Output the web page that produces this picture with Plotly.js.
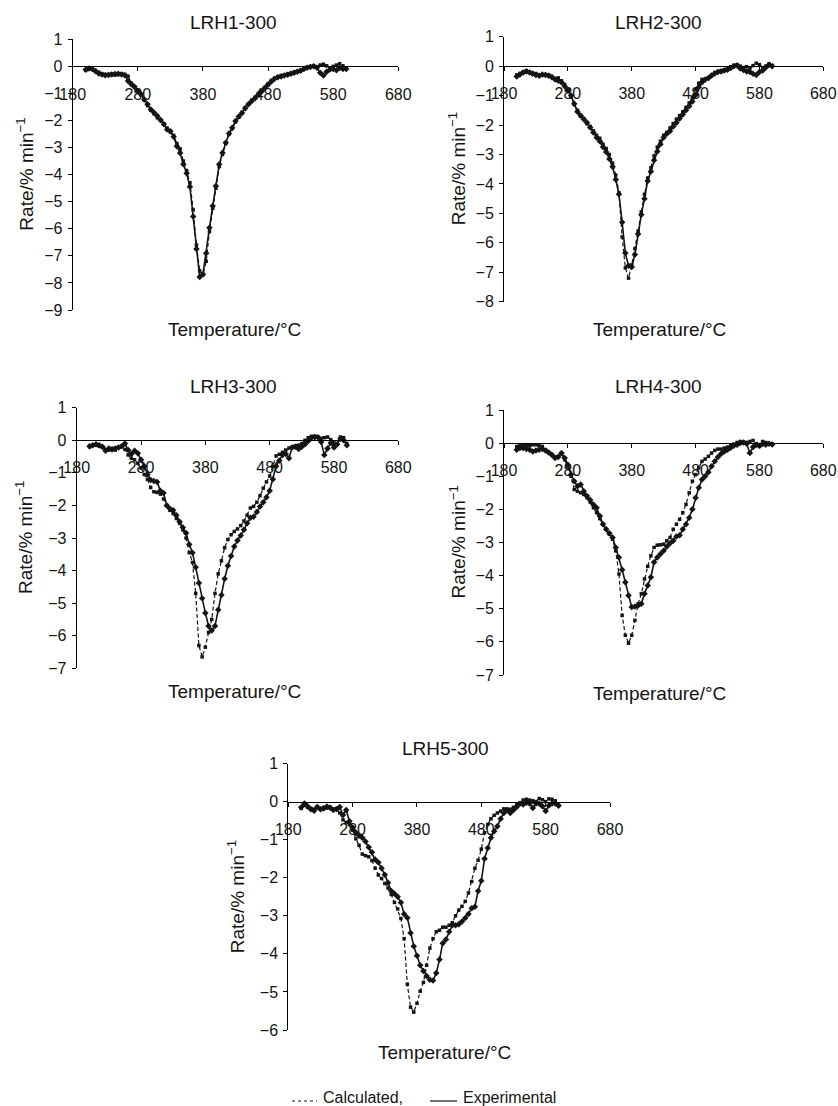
<!DOCTYPE html>
<html>
<head>
<meta charset="utf-8">
<script src="https://cdn.plot.ly/plotly-3.0.1.min.js"></script>
<style>
html,body{margin:0;padding:0;background:#fff;}
#chart{width:838px;height:1106px;}
</style>
</head>
<body>
<div id="chart"></div>
<script>
// ---------------- DATA ----------------
const temperature = [200,205,210,215,220,225,230,235,240,245,
  250,255,260,265,270,275,280,285,290,295,
  300,305,310,315,320,325,330,335,340,345,
  350,355,360,365,370,375,380,385,390,395,
  400,405,410,415,420,425,430,435,440,445,
  450,455,460,465,470,475,480,485,490,495,
  500,505,510,515,520,525,530,535,540,545,
  550,555,560,565,570,575,580,585,590,595,
  600];

const xTickLabels = [180,280,380,480,580,680];

const panelNames = ['LRH1-300','LRH2-300','LRH3-300','LRH4-300','LRH5-300'];
const yAxisMin = [-9,-8,-7,-7,-6];
const yAxisMax = 1;

const lrh1Exp = [-0.12,-0.08,-0.10,-0.18,-0.26,-0.30,-0.33,-0.32,-0.30,-0.28,
  -0.27,-0.30,-0.33,-0.54,-0.66,-0.75,-0.91,-1.03,-1.22,-1.40,
  -1.59,-1.71,-1.83,-1.98,-2.14,-2.33,-2.40,-2.60,-2.95,-3.20,
  -3.62,-3.95,-4.45,-5.55,-6.75,-7.78,-7.68,-6.90,-5.96,-5.16,
  -4.42,-3.62,-3.19,-2.82,-2.48,-2.27,-2.02,-1.85,-1.72,-1.55,
  -1.40,-1.28,-1.18,-1.05,-0.93,-0.80,-0.68,-0.56,-0.46,-0.40,
  -0.37,-0.34,-0.31,-0.27,-0.24,-0.20,-0.16,-0.10,-0.05,-0.02,
  0.00,-0.05,-0.24,-0.34,-0.20,-0.12,-0.10,-0.14,-0.06,-0.10,
  -0.10];
const lrh1Calc = [-0.15,-0.10,-0.08,-0.15,-0.22,-0.28,-0.30,-0.30,-0.28,-0.32,
  -0.30,-0.27,-0.30,-0.36,-0.62,-0.78,-0.88,-1.05,-1.25,-1.45,
  -1.62,-1.75,-1.90,-2.00,-2.12,-2.28,-2.42,-2.55,-2.85,-3.05,
  -3.50,-3.85,-4.30,-5.30,-6.60,-7.55,-7.70,-7.20,-6.10,-5.25,
  -4.50,-3.70,-3.25,-2.85,-2.50,-2.30,-2.05,-1.88,-1.70,-1.52,
  -1.38,-1.25,-1.14,-1.00,-0.90,-0.78,-0.64,-0.52,-0.44,-0.38,
  -0.34,-0.32,-0.28,-0.25,-0.22,-0.18,-0.14,-0.08,-0.03,0.00,
  0.02,-0.02,0.05,0.08,0.02,-0.05,0.00,0.05,0.10,0.02,
  -0.05];

const lrh2Exp = [-0.35,-0.28,-0.22,-0.18,-0.22,-0.25,-0.30,-0.33,-0.28,-0.30,
  -0.33,-0.38,-0.45,-0.50,-0.55,-0.68,-0.82,-1.00,-1.28,-1.55,
  -1.68,-1.80,-1.92,-2.08,-2.25,-2.42,-2.55,-2.75,-2.92,-3.15,
  -3.42,-3.85,-4.35,-5.30,-6.35,-6.78,-6.82,-6.40,-5.70,-5.05,
  -4.50,-3.90,-3.58,-3.20,-2.90,-2.65,-2.42,-2.30,-2.20,-2.05,
  -1.92,-1.78,-1.64,-1.50,-1.36,-1.20,-0.98,-0.72,-0.55,-0.45,
  -0.40,-0.32,-0.25,-0.20,-0.18,-0.15,-0.12,-0.06,0.00,0.02,
  -0.08,-0.13,-0.18,-0.20,-0.26,-0.30,-0.20,-0.15,-0.05,0.05,
  0.00];
const lrh2Calc = [-0.30,-0.25,-0.20,-0.15,-0.20,-0.28,-0.25,-0.30,-0.30,-0.28,
  -0.30,-0.35,-0.42,-0.40,-0.50,-0.62,-0.78,-1.05,-1.30,-1.50,
  -1.70,-1.78,-1.95,-2.05,-2.20,-2.35,-2.45,-2.65,-2.80,-3.00,
  -3.30,-3.70,-4.30,-5.80,-6.85,-7.20,-6.75,-6.20,-5.60,-4.95,
  -4.35,-3.80,-3.45,-3.05,-2.75,-2.55,-2.35,-2.25,-2.10,-1.95,
  -1.80,-1.68,-1.55,-1.40,-1.25,-1.05,-0.80,-0.58,-0.45,-0.45,
  -0.42,-0.32,-0.22,-0.18,-0.15,-0.12,-0.08,-0.02,0.03,0.05,
  0.00,-0.05,-0.02,-0.08,0.02,0.10,0.05,-0.05,0.00,0.08,
  0.02];

const lrh3Exp = [-0.18,-0.15,-0.12,-0.15,-0.20,-0.32,-0.25,-0.28,-0.25,-0.22,
  -0.18,-0.10,-0.30,-0.42,-0.32,-0.40,-0.60,-0.80,-1.05,-1.22,
  -1.25,-1.28,-1.55,-1.62,-2.00,-2.10,-2.15,-2.30,-2.50,-2.68,
  -2.85,-3.20,-3.45,-3.90,-4.38,-4.85,-5.30,-5.70,-5.84,-5.70,
  -5.20,-4.75,-4.25,-3.85,-3.55,-3.26,-3.08,-2.92,-2.75,-2.55,
  -2.38,-2.35,-2.20,-2.03,-1.90,-1.75,-1.55,-1.20,-0.80,-0.62,
  -0.45,-0.42,-0.55,-0.22,-0.20,-0.27,-0.20,-0.12,-0.02,0.08,
  0.09,0.09,-0.05,-0.45,-0.25,-0.08,-0.22,-0.12,0.05,0.00,
  -0.15];
const lrh3Calc = [-0.20,-0.15,-0.15,-0.18,-0.22,-0.28,-0.30,-0.25,-0.30,-0.22,
  -0.18,-0.28,-0.45,-0.55,-0.60,-0.70,-0.85,-1.05,-1.20,-1.45,
  -1.58,-1.60,-1.65,-1.80,-2.00,-2.15,-2.25,-2.40,-2.55,-2.75,
  -3.00,-3.45,-3.75,-4.70,-6.30,-6.65,-6.35,-5.90,-5.50,-4.70,
  -4.10,-3.70,-3.30,-3.05,-2.90,-2.80,-2.72,-2.62,-2.48,-2.30,
  -2.08,-2.03,-1.90,-1.70,-1.47,-1.28,-1.10,-0.80,-0.48,-0.43,
  -0.37,-0.30,-0.24,-0.20,-0.17,-0.15,-0.10,0.00,0.08,0.12,
  0.13,0.10,0.06,0.08,0.10,0.02,-0.08,-0.12,0.10,0.08,
  -0.10];

const lrh4Exp = [-0.20,-0.15,-0.15,-0.18,-0.20,-0.25,-0.22,-0.20,-0.18,-0.22,
  -0.28,-0.35,-0.45,-0.42,-0.30,-0.45,-0.65,-0.95,-1.15,-1.30,
  -1.25,-1.45,-1.60,-1.72,-1.85,-1.95,-2.20,-2.45,-2.60,-2.72,
  -2.85,-3.15,-3.45,-3.82,-4.20,-4.60,-4.95,-4.93,-4.90,-4.85,
  -4.55,-4.30,-4.05,-3.60,-3.45,-3.35,-3.25,-3.12,-3.02,-2.95,
  -2.82,-2.78,-2.60,-2.45,-2.25,-2.00,-1.65,-1.35,-1.10,-1.00,
  -0.88,-0.70,-0.55,-0.42,-0.32,-0.25,-0.20,-0.14,-0.08,-0.05,
  0.00,0.02,-0.02,-0.30,-0.12,-0.05,-0.08,-0.03,-0.05,-0.02,
  -0.04];
const lrh4Calc = [-0.10,-0.05,-0.06,-0.08,-0.08,-0.05,-0.05,-0.08,-0.10,-0.20,
  -0.28,-0.37,-0.42,-0.40,-0.32,-0.50,-0.72,-1.00,-1.40,-1.45,
  -1.50,-1.55,-1.65,-1.78,-1.95,-2.10,-2.28,-2.45,-2.60,-2.75,
  -2.90,-3.25,-3.95,-5.20,-5.80,-6.04,-5.80,-5.35,-4.85,-4.55,
  -4.10,-3.72,-3.40,-3.15,-3.08,-3.07,-3.05,-2.95,-2.85,-2.60,
  -2.45,-2.30,-2.10,-1.85,-1.50,-1.15,-0.95,-0.75,-0.55,-0.48,
  -0.40,-0.30,-0.22,-0.18,-0.18,-0.15,-0.12,-0.08,-0.03,0.02,
  0.05,0.03,0.02,0.05,0.08,-0.02,-0.10,0.05,0.02,-0.02,
  -0.02];

const lrh5Exp = [-0.15,-0.05,-0.12,-0.20,-0.24,-0.14,-0.20,-0.18,-0.13,-0.16,
  -0.22,-0.20,-0.14,-0.35,-0.22,-0.52,-0.68,-0.82,-0.90,-0.95,
  -1.05,-1.20,-1.33,-1.52,-1.60,-1.75,-1.92,-2.13,-2.35,-2.42,
  -2.50,-2.65,-2.95,-3.05,-3.45,-3.80,-4.05,-4.30,-4.45,-4.58,
  -4.68,-4.70,-4.50,-4.15,-3.72,-3.62,-3.42,-3.25,-3.25,-3.22,
  -3.15,-3.06,-2.95,-2.80,-2.76,-2.35,-2.08,-1.50,-1.22,-0.95,
  -0.78,-0.65,-0.45,-0.30,-0.22,-0.30,-0.22,-0.14,-0.06,-0.08,
  -0.03,-0.05,-0.17,-0.05,-0.06,-0.12,-0.25,-0.10,-0.05,-0.05,
  -0.11];
const lrh5Calc = [-0.18,-0.10,-0.15,-0.18,-0.20,-0.15,-0.18,-0.15,-0.17,-0.15,
  -0.20,-0.18,-0.30,-0.48,-0.55,-0.60,-0.75,-0.98,-1.15,-1.38,
  -1.42,-1.45,-1.55,-1.75,-1.93,-2.02,-2.15,-2.27,-2.44,-2.65,
  -2.82,-3.07,-3.60,-4.80,-5.40,-5.53,-5.30,-4.98,-4.75,-4.30,
  -3.85,-3.60,-3.42,-3.38,-3.30,-3.30,-3.25,-3.18,-3.00,-2.85,
  -2.75,-2.62,-2.40,-2.10,-1.75,-1.54,-1.25,-0.82,-0.60,-0.45,
  -0.36,-0.30,-0.25,-0.19,-0.20,-0.20,-0.15,-0.08,-0.04,0.04,
  0.06,0.04,0.02,0.00,0.08,0.05,0.00,0.07,0.06,0.02,
  -0.09];

const calcSeries = [lrh1Calc, lrh2Calc, lrh3Calc, lrh4Calc, lrh5Calc];
const expSeries  = [lrh1Exp,  lrh2Exp,  lrh3Exp,  lrh4Exp,  lrh5Exp];

const xTitleText = 'Temperature/°C';
const yTitleText = 'Rate/% min<sup>−1</sup>';
const legendCalcText = 'Calculated,';
const legendExpText = 'Experimental';

// ---------------- LAYOUT GEOMETRY (pixels) ----------------
const W = 838, H = 1106;
const boxes = [
  {l:72.7,  r:398.3, t:39.3,  b:310.0, titleX:233, titleY:22,    xtX:234, xtY:330,    ytX:25},
  {l:504.0, r:823.3, t:36.7,  b:301.7, titleX:658, titleY:22,    xtX:659, xtY:330,    ytX:457},
  {l:76.7,  r:398.3, t:407.7, b:668.3, titleX:233, titleY:386.7, xtX:234, xtY:691.5,  ytX:24},
  {l:504.0, r:823.3, t:410.0, b:675.0, titleX:658, titleY:386.7, xtX:659, xtY:693,    ytX:457},
  {l:288.3, r:610.0, t:763.5, b:1030.0,titleX:445, titleY:748,   xtX:444, xtY:1052.5, ytX:235.5}
];
const px = v => v / W;
const py = v => 1 - v / H;

const FONT = 'Liberation Sans, Arial, Helvetica, sans-serif';
const INK = '#141414';

const traces = [];
const layout = {
  width: W, height: H,
  margin: {l:0, r:0, t:0, b:0},
  paper_bgcolor: '#fff', plot_bgcolor: 'rgba(0,0,0,0)',
  showlegend: false,
  font: {family: FONT, color: INK, size: 16},
  annotations: [], shapes: []
};

boxes.forEach((bx, i) => {
  const k = i === 0 ? '' : String(i + 1);
  const yMin = yAxisMin[i];
  const zeroPx = bx.t + (yAxisMax - 0) / (yAxisMax - yMin) * (bx.b - bx.t);
  const yTicks = [];
  for (let v = yMin; v <= yAxisMax; v++) yTicks.push(v);

  layout['xaxis' + k] = {
    domain: [px(bx.l), px(bx.r)],
    range: [180, 680],
    anchor: 'free',
    position: py(zeroPx),
    tickmode: 'array', tickvals: xTickLabels, ticktext: xTickLabels.map(String),
    showline: true, linecolor: '#000', linewidth: 1,
    ticks: 'outside', ticklen: 4, tickwidth: 1, tickcolor: '#000',
    ticklabelstandoff: 9,
    showgrid: false, zeroline: false, fixedrange: true,
    tickfont: {family: FONT, size: 16, color: INK}
  };
  layout['yaxis' + k] = {
    domain: [py(bx.b), py(bx.t)],
    range: [yMin, yAxisMax],
    anchor: 'x' + k,
    tickmode: 'array', tickvals: yTicks,
    showline: true, linecolor: '#000', linewidth: 1,
    ticks: 'outside', ticklen: 4, tickwidth: 1, tickcolor: '#000',
    ticklabelstandoff: 2,
    showgrid: false, zeroline: false, fixedrange: true,
    tickfont: {family: FONT, size: 16, color: INK}
  };

  traces.push({
    type: 'scatter', mode: 'lines+markers',
    x: temperature, y: calcSeries[i],
    xaxis: 'x' + k, yaxis: 'y' + k,
    name: legendCalcText,
    line: {color: INK, width: 1.2, dash: '4px,2.5px'},
    marker: {symbol: 'square', size: 3.5, color: INK},
    cliponaxis: false, hoverinfo: 'skip'
  });
  traces.push({
    type: 'scatter', mode: 'lines+markers',
    x: temperature, y: expSeries[i],
    xaxis: 'x' + k, yaxis: 'y' + k,
    name: legendExpText,
    line: {color: INK, width: 1.6},
    marker: {symbol: 'diamond', size: 5, color: INK},
    cliponaxis: false, hoverinfo: 'skip'
  });

  layout.annotations.push({
    text: panelNames[i], xref: 'paper', yref: 'paper',
    x: px(bx.titleX), y: py(bx.titleY), xanchor: 'center', yanchor: 'middle',
    showarrow: false, font: {family: FONT, size: 19, color: INK}
  });
  layout.annotations.push({
    text: xTitleText, xref: 'paper', yref: 'paper',
    x: px(bx.xtX), y: py(bx.xtY), xanchor: 'center', yanchor: 'middle',
    showarrow: false, font: {family: FONT, size: 19, color: INK}
  });
  layout.annotations.push({
    text: yTitleText, xref: 'paper', yref: 'paper', textangle: -90,
    x: px(bx.ytX), y: py((bx.t + bx.b) / 2), xanchor: 'center', yanchor: 'middle',
    showarrow: false, font: {family: FONT, size: 19, color: INK}
  });
});

// legend (drawn manually)
layout.shapes.push({type:'line', xref:'paper', yref:'paper',
  x0: px(292), x1: px(317), y0: py(1101), y1: py(1101),
  line: {color: INK, width: 1, dash: 'dot'}});
layout.shapes.push({type:'line', xref:'paper', yref:'paper',
  x0: px(430), x1: px(457), y0: py(1101), y1: py(1101),
  line: {color: INK, width: 1.2}});
layout.annotations.push({text: legendCalcText, xref:'paper', yref:'paper',
  x: px(321), y: py(1097.5), xanchor:'left', yanchor:'middle', showarrow:false,
  font: {family: FONT, size: 16, color: INK}});
layout.annotations.push({text: legendExpText, xref:'paper', yref:'paper',
  x: px(461), y: py(1097.5), xanchor:'left', yanchor:'middle', showarrow:false,
  font: {family: FONT, size: 16, color: INK}});

Plotly.newPlot('chart', traces, layout, {staticPlot: true, displayModeBar: false});
</script>
</body>
</html>
